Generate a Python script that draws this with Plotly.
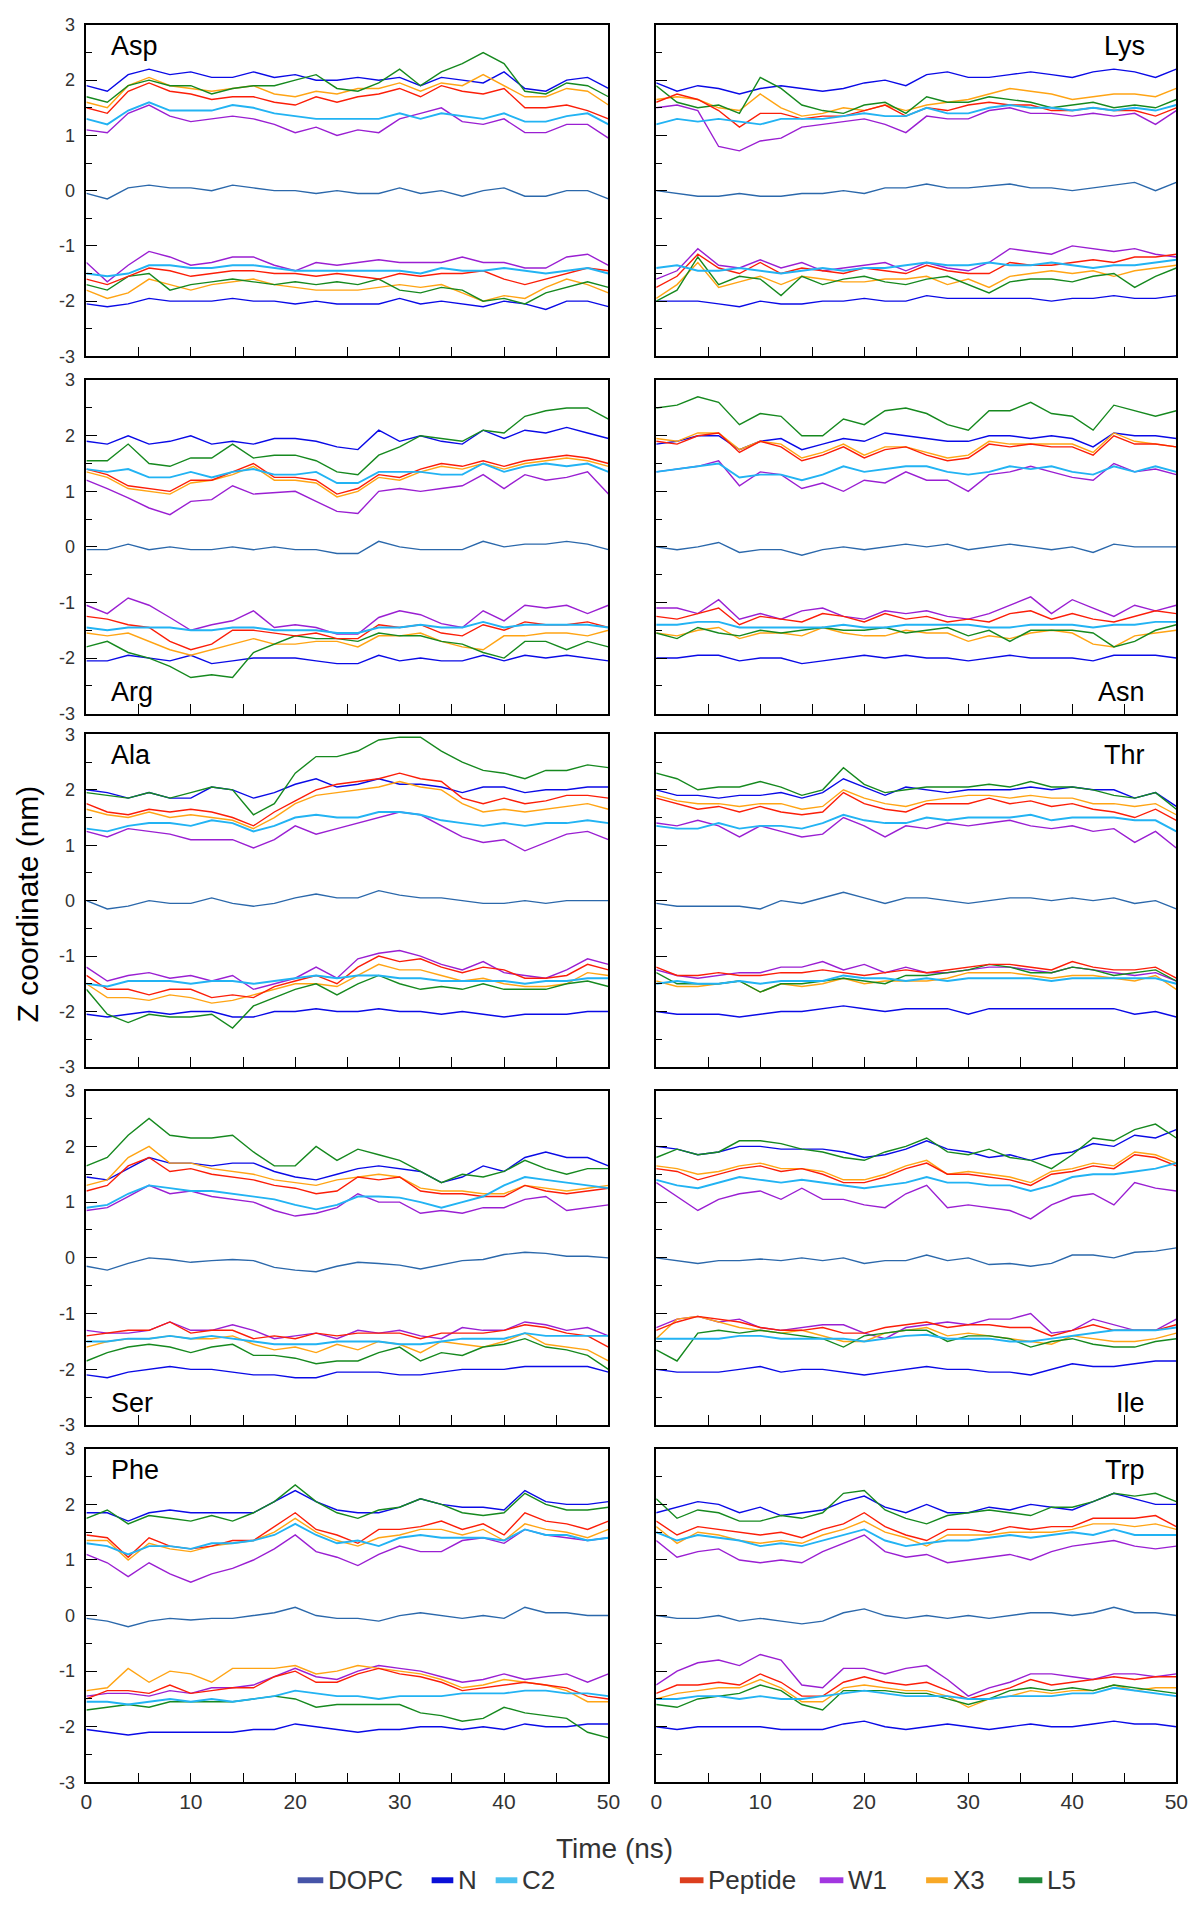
import plotly.graph_objects as go

W, H = 1200, 1907

# ---------------- data (Z coordinate in nm, sampled every 2 ns) ----------------
time_ns = [0, 2, 4, 6, 8, 10, 12, 14, 16, 18, 20, 22, 24, 26, 28, 30, 32, 34, 36, 38, 40, 42, 44, 46, 48, 50]

# Asp
asp_dopc = [-0.05, -0.15, 0.05, 0.1, 0.05, 0.05, 0.0, 0.1, 0.05, 0.0, 0.0, -0.05, 0.0, -0.05, -0.05, 0.05, -0.05, 0.0, -0.1, 0.0, 0.05, -0.1, -0.1, 0.0, 0.0, -0.15]
asp_n_up = [1.9, 1.8, 2.1, 2.2, 2.1, 2.15, 2.05, 2.05, 2.15, 2.05, 2.1, 2.0, 2.0, 2.05, 2.0, 2.05, 1.9, 2.05, 2.0, 1.95, 2.15, 1.85, 1.8, 2.0, 2.05, 1.85]
asp_c2_up = [1.3, 1.2, 1.45, 1.6, 1.45, 1.45, 1.45, 1.55, 1.5, 1.4, 1.35, 1.3, 1.3, 1.3, 1.3, 1.4, 1.3, 1.4, 1.35, 1.3, 1.4, 1.25, 1.25, 1.35, 1.4, 1.2]
asp_pep_up = [1.5, 1.4, 1.8, 1.95, 1.8, 1.75, 1.65, 1.7, 1.7, 1.6, 1.55, 1.7, 1.6, 1.7, 1.75, 1.85, 1.7, 1.9, 1.8, 1.75, 1.85, 1.5, 1.5, 1.55, 1.45, 1.3]
asp_x3_up = [1.6, 1.5, 1.9, 2.05, 1.9, 1.85, 1.8, 1.85, 1.9, 1.75, 1.7, 1.8, 1.75, 1.85, 1.85, 1.95, 1.8, 1.95, 1.9, 2.1, 1.9, 1.7, 1.7, 1.85, 1.8, 1.55]
asp_w1_up = [1.1, 1.05, 1.4, 1.55, 1.35, 1.25, 1.3, 1.35, 1.3, 1.2, 1.05, 1.15, 1.0, 1.1, 1.05, 1.3, 1.4, 1.5, 1.25, 1.2, 1.3, 1.05, 1.05, 1.2, 1.2, 0.95]
asp_l5_up = [1.7, 1.6, 1.9, 2.0, 1.9, 1.9, 1.75, 1.85, 1.9, 1.9, 2.0, 2.1, 1.85, 1.8, 1.95, 2.2, 1.9, 2.15, 2.3, 2.5, 2.3, 1.8, 1.75, 1.95, 1.9, 1.7]
asp_n_lo = [-2.05, -2.1, -2.05, -1.95, -2.0, -2.0, -2.0, -1.95, -2.0, -2.0, -2.05, -2.0, -2.05, -2.05, -2.05, -1.95, -2.05, -2.0, -2.05, -2.1, -2.0, -2.05, -2.15, -2.0, -2.0, -2.1]
asp_c2_lo = [-1.5, -1.55, -1.5, -1.35, -1.35, -1.4, -1.4, -1.35, -1.35, -1.4, -1.45, -1.45, -1.45, -1.45, -1.45, -1.45, -1.5, -1.4, -1.45, -1.45, -1.4, -1.45, -1.5, -1.45, -1.4, -1.5]
asp_w1_lo = [-1.3, -1.65, -1.35, -1.1, -1.2, -1.35, -1.3, -1.2, -1.2, -1.35, -1.45, -1.3, -1.35, -1.3, -1.25, -1.3, -1.3, -1.3, -1.2, -1.3, -1.3, -1.4, -1.4, -1.2, -1.15, -1.35]
asp_pep_lo = [-1.6, -1.7, -1.55, -1.4, -1.45, -1.55, -1.5, -1.45, -1.45, -1.5, -1.5, -1.55, -1.5, -1.55, -1.6, -1.5, -1.55, -1.5, -1.5, -1.45, -1.6, -1.7, -1.6, -1.5, -1.4, -1.45]
asp_x3_lo = [-1.8, -1.95, -1.85, -1.6, -1.7, -1.8, -1.7, -1.65, -1.6, -1.7, -1.75, -1.8, -1.8, -1.8, -1.75, -1.7, -1.75, -1.7, -1.85, -2.0, -1.9, -1.95, -1.75, -1.6, -1.7, -1.85]
asp_l5_lo = [-1.7, -1.8, -1.55, -1.5, -1.8, -1.7, -1.65, -1.6, -1.65, -1.7, -1.65, -1.7, -1.65, -1.7, -1.6, -1.8, -1.85, -1.75, -1.8, -2.0, -1.95, -2.05, -1.85, -1.75, -1.65, -1.75]

# Lys
lys_dopc = [0.0, -0.05, -0.1, -0.1, -0.05, -0.1, -0.1, -0.05, -0.05, 0.0, -0.05, 0.05, 0.05, 0.12, 0.05, 0.05, 0.08, 0.12, 0.05, 0.05, 0.0, 0.05, 0.1, 0.15, 0.0, 0.15]
lys_n_up = [1.95, 1.8, 1.9, 1.85, 1.75, 1.85, 1.9, 1.85, 1.8, 1.85, 1.95, 2.0, 1.9, 2.1, 2.15, 2.05, 2.05, 2.1, 2.15, 2.1, 2.05, 2.15, 2.2, 2.15, 2.05, 2.2]
lys_c2_up = [1.2, 1.3, 1.25, 1.3, 1.25, 1.2, 1.3, 1.3, 1.3, 1.35, 1.4, 1.35, 1.35, 1.5, 1.4, 1.4, 1.5, 1.55, 1.5, 1.5, 1.45, 1.5, 1.45, 1.5, 1.45, 1.55]
lys_pep_up = [1.6, 1.75, 1.65, 1.45, 1.15, 1.4, 1.4, 1.3, 1.35, 1.35, 1.45, 1.55, 1.35, 1.5, 1.45, 1.55, 1.6, 1.55, 1.55, 1.45, 1.45, 1.5, 1.45, 1.45, 1.35, 1.5]
lys_x3_up = [1.65, 1.7, 1.65, 1.5, 1.45, 1.75, 1.5, 1.35, 1.4, 1.5, 1.45, 1.55, 1.45, 1.55, 1.6, 1.65, 1.75, 1.85, 1.8, 1.75, 1.65, 1.7, 1.75, 1.75, 1.7, 1.85]
lys_w1_up = [1.5, 1.55, 1.45, 0.8, 0.72, 0.9, 0.95, 1.15, 1.2, 1.25, 1.3, 1.2, 1.05, 1.35, 1.3, 1.3, 1.45, 1.5, 1.4, 1.4, 1.35, 1.4, 1.35, 1.4, 1.2, 1.45]
lys_l5_up = [1.9, 1.6, 1.5, 1.55, 1.4, 2.05, 1.85, 1.55, 1.45, 1.4, 1.55, 1.6, 1.4, 1.7, 1.6, 1.6, 1.7, 1.65, 1.6, 1.5, 1.55, 1.6, 1.5, 1.55, 1.5, 1.65]
lys_n_lo = [-2.0, -2.0, -2.0, -2.05, -2.1, -2.0, -2.05, -2.05, -2.0, -2.0, -1.95, -2.0, -2.0, -1.9, -1.95, -1.95, -1.95, -1.95, -1.95, -2.0, -1.95, -1.95, -1.9, -1.95, -1.95, -1.9]
lys_c2_lo = [-1.4, -1.35, -1.45, -1.45, -1.4, -1.45, -1.5, -1.45, -1.4, -1.45, -1.4, -1.4, -1.35, -1.3, -1.35, -1.35, -1.3, -1.35, -1.35, -1.3, -1.35, -1.4, -1.35, -1.35, -1.3, -1.25]
lys_pep_lo = [-1.75, -1.55, -1.15, -1.4, -1.5, -1.3, -1.5, -1.4, -1.45, -1.5, -1.4, -1.45, -1.5, -1.35, -1.45, -1.5, -1.5, -1.3, -1.35, -1.35, -1.3, -1.25, -1.3, -1.2, -1.2, -1.15]
lys_w1_lo = [-1.6, -1.45, -1.05, -1.35, -1.4, -1.25, -1.4, -1.3, -1.45, -1.4, -1.35, -1.3, -1.45, -1.3, -1.4, -1.45, -1.3, -1.05, -1.1, -1.15, -1.0, -1.05, -1.1, -1.05, -1.15, -1.2]
lys_x3_lo = [-1.95, -1.7, -1.3, -1.75, -1.65, -1.55, -1.7, -1.55, -1.6, -1.65, -1.65, -1.6, -1.6, -1.55, -1.7, -1.6, -1.75, -1.55, -1.5, -1.45, -1.5, -1.45, -1.55, -1.45, -1.4, -1.35]
lys_l5_lo = [-2.0, -1.8, -1.2, -1.7, -1.55, -1.6, -1.9, -1.55, -1.7, -1.6, -1.55, -1.65, -1.7, -1.6, -1.55, -1.7, -1.85, -1.65, -1.6, -1.6, -1.65, -1.55, -1.5, -1.75, -1.55, -1.4]

# Arg
arg_dopc = [-0.05, -0.05, 0.05, -0.05, 0.0, -0.05, -0.05, 0.0, -0.05, 0.0, -0.05, -0.05, -0.12, -0.12, 0.1, 0.0, -0.05, -0.05, -0.05, 0.1, 0.0, 0.05, 0.05, 0.1, 0.05, -0.05]
arg_n_up = [1.9, 1.85, 2.0, 1.85, 1.9, 2.0, 1.85, 1.9, 1.85, 1.95, 1.95, 1.9, 1.8, 1.75, 2.1, 1.9, 2.0, 1.9, 1.85, 2.1, 1.95, 2.1, 2.05, 2.15, 2.05, 1.95]
arg_c2_up = [1.4, 1.35, 1.4, 1.25, 1.25, 1.35, 1.25, 1.35, 1.4, 1.3, 1.3, 1.35, 1.15, 1.15, 1.35, 1.35, 1.35, 1.3, 1.3, 1.5, 1.35, 1.45, 1.5, 1.45, 1.5, 1.35]
arg_pep_up = [1.4, 1.3, 1.1, 1.05, 1.0, 1.2, 1.2, 1.35, 1.5, 1.25, 1.25, 1.2, 0.95, 1.05, 1.3, 1.25, 1.4, 1.5, 1.45, 1.55, 1.45, 1.55, 1.6, 1.65, 1.6, 1.5]
arg_x3_up = [1.35, 1.25, 1.05, 1.0, 0.95, 1.15, 1.2, 1.3, 1.45, 1.2, 1.2, 1.15, 0.9, 1.0, 1.25, 1.2, 1.35, 1.45, 1.4, 1.5, 1.4, 1.5, 1.55, 1.6, 1.55, 1.45]
arg_w1_up = [1.2, 1.05, 0.88, 0.7, 0.58, 0.82, 0.85, 1.1, 0.95, 0.97, 1.0, 0.82, 0.64, 0.6, 1.0, 1.05, 1.0, 1.05, 1.1, 1.3, 1.05, 1.3, 1.2, 1.25, 1.35, 0.95]
arg_l5_up = [1.55, 1.55, 1.85, 1.5, 1.45, 1.6, 1.6, 1.85, 1.6, 1.65, 1.65, 1.55, 1.35, 1.3, 1.65, 1.8, 2.0, 1.95, 1.9, 2.1, 2.05, 2.35, 2.45, 2.5, 2.5, 2.3]
arg_n_lo = [-2.05, -2.05, -1.95, -2.0, -2.05, -1.95, -2.1, -2.05, -2.0, -2.0, -2.0, -2.05, -2.1, -2.1, -1.95, -2.05, -2.0, -2.05, -2.05, -1.95, -2.05, -1.95, -2.0, -1.95, -2.0, -2.05]
arg_c2_lo = [-1.45, -1.5, -1.45, -1.45, -1.45, -1.5, -1.5, -1.45, -1.45, -1.5, -1.5, -1.5, -1.55, -1.55, -1.45, -1.45, -1.4, -1.45, -1.45, -1.35, -1.45, -1.4, -1.4, -1.4, -1.4, -1.45]
arg_w1_lo = [-1.05, -1.2, -0.92, -1.05, -1.27, -1.5, -1.4, -1.33, -1.15, -1.45, -1.4, -1.45, -1.57, -1.57, -1.27, -1.15, -1.22, -1.38, -1.45, -1.15, -1.33, -1.05, -1.1, -1.05, -1.2, -1.05]
arg_pep_lo = [-1.25, -1.3, -1.4, -1.45, -1.7, -1.85, -1.75, -1.5, -1.5, -1.55, -1.6, -1.55, -1.65, -1.65, -1.4, -1.45, -1.4, -1.55, -1.6, -1.4, -1.5, -1.35, -1.4, -1.4, -1.35, -1.45]
arg_x3_lo = [-1.55, -1.6, -1.55, -1.7, -1.85, -1.95, -1.85, -1.75, -1.65, -1.75, -1.75, -1.7, -1.7, -1.8, -1.6, -1.6, -1.55, -1.7, -1.8, -1.85, -1.6, -1.6, -1.55, -1.55, -1.6, -1.5]
arg_l5_lo = [-1.8, -1.7, -1.9, -2.0, -2.15, -2.35, -2.3, -2.35, -1.9, -1.75, -1.6, -1.65, -1.65, -1.7, -1.55, -1.6, -1.6, -1.7, -1.75, -1.9, -2.0, -1.7, -1.7, -1.85, -1.7, -1.8]

# Asn
asn_dopc = [0.0, -0.05, 0.0, 0.08, -0.1, -0.05, -0.05, -0.15, -0.05, 0.0, -0.05, 0.0, 0.05, 0.0, 0.05, -0.05, 0.0, 0.05, 0.0, -0.05, 0.0, -0.1, 0.05, 0.0, 0.0, 0.0]
asn_n_up = [1.85, 1.9, 2.0, 2.0, 1.75, 1.9, 1.95, 1.75, 1.85, 1.95, 1.9, 2.05, 2.0, 1.95, 1.9, 1.9, 2.0, 2.0, 1.95, 2.0, 1.95, 1.8, 2.05, 2.0, 2.0, 1.95]
asn_c2_up = [1.35, 1.4, 1.45, 1.5, 1.25, 1.3, 1.3, 1.2, 1.3, 1.45, 1.35, 1.4, 1.45, 1.45, 1.35, 1.3, 1.35, 1.45, 1.4, 1.45, 1.35, 1.3, 1.45, 1.35, 1.45, 1.35]
asn_pep_up = [1.9, 1.85, 2.0, 2.05, 1.7, 1.9, 1.8, 1.55, 1.65, 1.8, 1.6, 1.75, 1.8, 1.65, 1.55, 1.6, 1.85, 1.8, 1.85, 1.8, 1.8, 1.65, 2.0, 1.85, 1.85, 1.8]
asn_x3_up = [1.95, 1.9, 2.05, 2.05, 1.75, 1.9, 1.85, 1.6, 1.7, 1.85, 1.65, 1.8, 1.8, 1.7, 1.6, 1.65, 1.9, 1.85, 1.85, 1.85, 1.85, 1.7, 2.05, 1.9, 1.85, 1.8]
asn_w1_up = [1.35, 1.4, 1.45, 1.55, 1.1, 1.35, 1.3, 1.05, 1.15, 1.0, 1.2, 1.15, 1.35, 1.2, 1.2, 1.0, 1.3, 1.35, 1.45, 1.35, 1.25, 1.2, 1.5, 1.35, 1.4, 1.3]
asn_l5_up = [2.5, 2.55, 2.7, 2.6, 2.2, 2.4, 2.35, 2.0, 2.0, 2.3, 2.2, 2.45, 2.5, 2.4, 2.2, 2.1, 2.45, 2.45, 2.6, 2.4, 2.35, 2.1, 2.55, 2.45, 2.35, 2.45]
asn_n_lo = [-2.0, -2.0, -1.95, -1.95, -2.05, -2.0, -2.0, -2.1, -2.05, -2.0, -1.95, -2.0, -1.95, -2.0, -2.0, -2.05, -2.0, -1.95, -2.0, -2.0, -2.0, -2.05, -1.95, -1.95, -1.95, -2.0]
asn_c2_lo = [-1.4, -1.4, -1.35, -1.35, -1.45, -1.45, -1.45, -1.45, -1.45, -1.4, -1.45, -1.45, -1.4, -1.4, -1.4, -1.4, -1.45, -1.45, -1.4, -1.4, -1.4, -1.45, -1.4, -1.4, -1.35, -1.35]
asn_w1_lo = [-1.1, -1.1, -1.2, -0.95, -1.3, -1.2, -1.3, -1.15, -1.1, -1.25, -1.3, -1.15, -1.2, -1.15, -1.25, -1.3, -1.2, -1.05, -0.9, -1.2, -0.95, -1.1, -1.25, -1.05, -1.15, -1.05]
asn_pep_lo = [-1.25, -1.3, -1.2, -1.1, -1.4, -1.25, -1.3, -1.35, -1.2, -1.25, -1.35, -1.2, -1.3, -1.25, -1.35, -1.3, -1.35, -1.2, -1.15, -1.3, -1.2, -1.3, -1.35, -1.25, -1.15, -1.2]
asn_x3_lo = [-1.55, -1.6, -1.5, -1.45, -1.65, -1.55, -1.55, -1.6, -1.45, -1.55, -1.6, -1.6, -1.5, -1.55, -1.55, -1.7, -1.6, -1.65, -1.55, -1.5, -1.55, -1.75, -1.8, -1.6, -1.55, -1.5]
asn_l5_lo = [-1.55, -1.65, -1.45, -1.55, -1.6, -1.5, -1.55, -1.5, -1.45, -1.5, -1.5, -1.45, -1.55, -1.5, -1.45, -1.6, -1.5, -1.7, -1.5, -1.5, -1.5, -1.55, -1.8, -1.7, -1.5, -1.4]

# Ala
ala_dopc = [0.0, -0.15, -0.1, 0.0, -0.05, -0.05, 0.05, -0.05, -0.1, -0.05, 0.05, 0.12, 0.05, 0.05, 0.18, 0.1, 0.05, 0.05, 0.0, -0.05, -0.05, 0.0, -0.05, 0.0, 0.0, 0.0]
ala_n_up = [2.0, 1.95, 1.85, 1.95, 1.85, 1.85, 2.05, 2.0, 1.85, 1.95, 2.1, 2.2, 2.05, 2.1, 2.2, 2.1, 2.1, 2.05, 1.95, 2.05, 2.05, 1.95, 2.0, 2.0, 2.05, 2.05]
ala_c2_up = [1.3, 1.25, 1.35, 1.4, 1.4, 1.35, 1.45, 1.4, 1.25, 1.35, 1.5, 1.55, 1.5, 1.5, 1.6, 1.6, 1.55, 1.45, 1.4, 1.35, 1.4, 1.35, 1.4, 1.4, 1.45, 1.4]
ala_pep_up = [1.75, 1.6, 1.55, 1.65, 1.6, 1.65, 1.6, 1.5, 1.35, 1.6, 1.8, 2.0, 2.1, 2.15, 2.2, 2.3, 2.2, 2.15, 1.85, 1.75, 1.85, 1.75, 1.8, 1.9, 1.9, 1.85]
ala_x3_up = [1.65, 1.55, 1.5, 1.6, 1.5, 1.55, 1.5, 1.45, 1.3, 1.5, 1.75, 1.9, 1.95, 2.0, 2.05, 2.15, 2.05, 2.0, 1.75, 1.6, 1.65, 1.6, 1.65, 1.7, 1.75, 1.65]
ala_w1_up = [1.25, 1.15, 1.3, 1.25, 1.2, 1.1, 1.1, 1.1, 0.95, 1.1, 1.35, 1.2, 1.3, 1.4, 1.5, 1.6, 1.55, 1.35, 1.15, 1.05, 1.1, 0.9, 1.05, 1.2, 1.25, 1.1]
ala_l5_up = [1.95, 1.9, 1.85, 1.95, 1.85, 1.95, 2.05, 2.0, 1.55, 1.75, 2.3, 2.6, 2.6, 2.7, 2.9, 2.95, 2.95, 2.7, 2.5, 2.35, 2.3, 2.2, 2.35, 2.35, 2.45, 2.4]
ala_n_lo = [-2.05, -2.1, -2.05, -2.0, -2.05, -2.0, -2.0, -2.1, -2.1, -2.0, -2.0, -1.95, -2.0, -2.0, -1.95, -2.0, -2.0, -2.05, -2.0, -2.05, -2.1, -2.05, -2.05, -2.05, -2.0, -2.0]
ala_c2_lo = [-1.5, -1.55, -1.45, -1.45, -1.45, -1.5, -1.45, -1.45, -1.5, -1.45, -1.4, -1.35, -1.4, -1.35, -1.35, -1.4, -1.4, -1.45, -1.45, -1.45, -1.45, -1.5, -1.45, -1.45, -1.4, -1.4]
ala_w1_lo = [-1.2, -1.45, -1.35, -1.3, -1.4, -1.35, -1.45, -1.35, -1.6, -1.5, -1.4, -1.2, -1.4, -1.05, -0.95, -0.9, -1.0, -1.15, -1.25, -1.1, -1.3, -1.35, -1.4, -1.25, -1.05, -1.15]
ala_pep_lo = [-1.35, -1.6, -1.6, -1.7, -1.6, -1.6, -1.75, -1.7, -1.75, -1.55, -1.45, -1.35, -1.5, -1.2, -1.0, -1.1, -1.05, -1.2, -1.3, -1.2, -1.25, -1.4, -1.4, -1.35, -1.15, -1.25]
ala_x3_lo = [-1.5, -1.75, -1.75, -1.8, -1.7, -1.75, -1.85, -1.8, -1.7, -1.6, -1.5, -1.5, -1.55, -1.35, -1.15, -1.25, -1.25, -1.35, -1.45, -1.4, -1.5, -1.55, -1.55, -1.5, -1.3, -1.35]
ala_l5_lo = [-1.6, -2.05, -2.2, -2.05, -2.1, -2.1, -2.05, -2.3, -1.9, -1.75, -1.6, -1.5, -1.7, -1.5, -1.35, -1.5, -1.6, -1.55, -1.6, -1.5, -1.6, -1.6, -1.6, -1.5, -1.45, -1.55]

# Thr
thr_dopc = [-0.05, -0.1, -0.1, -0.1, -0.1, -0.15, 0.0, -0.05, 0.05, 0.15, 0.05, -0.05, 0.05, 0.05, 0.0, -0.05, 0.0, 0.05, 0.05, 0.0, 0.05, 0.0, 0.05, -0.05, 0.0, -0.15]
thr_n_up = [2.0, 1.9, 1.9, 1.85, 1.9, 1.9, 1.95, 1.85, 1.95, 2.2, 2.05, 1.9, 2.05, 2.0, 1.95, 2.0, 2.0, 2.0, 2.05, 2.0, 2.05, 2.0, 2.0, 1.85, 1.95, 1.7]
thr_c2_up = [1.35, 1.3, 1.3, 1.4, 1.3, 1.35, 1.35, 1.3, 1.4, 1.55, 1.45, 1.4, 1.4, 1.5, 1.45, 1.5, 1.5, 1.5, 1.55, 1.45, 1.5, 1.5, 1.5, 1.45, 1.45, 1.25]
thr_pep_up = [1.85, 1.75, 1.65, 1.7, 1.6, 1.7, 1.6, 1.55, 1.6, 1.95, 1.75, 1.65, 1.6, 1.75, 1.75, 1.75, 1.85, 1.75, 1.8, 1.7, 1.75, 1.65, 1.6, 1.5, 1.65, 1.45]
thr_x3_up = [1.9, 1.8, 1.75, 1.75, 1.7, 1.75, 1.75, 1.65, 1.7, 2.0, 1.85, 1.75, 1.7, 1.8, 1.85, 1.9, 1.9, 1.85, 1.9, 1.85, 1.85, 1.75, 1.75, 1.7, 1.75, 1.55]
thr_w1_up = [1.4, 1.35, 1.45, 1.35, 1.15, 1.35, 1.25, 1.15, 1.2, 1.5, 1.35, 1.15, 1.35, 1.3, 1.4, 1.35, 1.4, 1.45, 1.35, 1.3, 1.35, 1.25, 1.3, 1.05, 1.25, 0.95]
thr_l5_up = [2.3, 2.2, 2.0, 2.05, 2.05, 2.15, 2.05, 1.9, 2.0, 2.4, 2.1, 1.95, 2.0, 2.05, 2.05, 2.05, 2.1, 2.05, 2.15, 2.05, 2.05, 2.0, 1.9, 1.85, 1.95, 1.65]
thr_n_lo = [-2.0, -2.05, -2.05, -2.05, -2.1, -2.05, -2.0, -2.0, -1.95, -1.9, -1.95, -2.0, -1.95, -1.95, -1.95, -2.05, -1.95, -1.95, -1.95, -1.95, -1.95, -1.95, -1.95, -2.05, -2.0, -2.1]
thr_c2_lo = [-1.5, -1.45, -1.5, -1.5, -1.45, -1.5, -1.45, -1.45, -1.45, -1.35, -1.4, -1.4, -1.45, -1.4, -1.45, -1.4, -1.4, -1.4, -1.4, -1.45, -1.4, -1.4, -1.4, -1.4, -1.4, -1.5]
thr_pep_lo = [-1.2, -1.35, -1.35, -1.3, -1.35, -1.35, -1.3, -1.3, -1.25, -1.3, -1.35, -1.3, -1.25, -1.3, -1.25, -1.2, -1.15, -1.15, -1.2, -1.25, -1.1, -1.2, -1.25, -1.25, -1.2, -1.4]
thr_w1_lo = [-1.25, -1.35, -1.4, -1.35, -1.3, -1.3, -1.2, -1.2, -1.1, -1.25, -1.15, -1.3, -1.2, -1.3, -1.3, -1.25, -1.2, -1.2, -1.25, -1.3, -1.2, -1.25, -1.3, -1.35, -1.3, -1.45]
thr_x3_lo = [-1.45, -1.55, -1.55, -1.5, -1.45, -1.65, -1.5, -1.55, -1.5, -1.4, -1.5, -1.45, -1.45, -1.45, -1.4, -1.3, -1.3, -1.3, -1.35, -1.4, -1.35, -1.35, -1.4, -1.45, -1.35, -1.6]
thr_l5_lo = [-1.3, -1.5, -1.5, -1.5, -1.45, -1.65, -1.5, -1.5, -1.45, -1.4, -1.45, -1.5, -1.35, -1.35, -1.3, -1.25, -1.15, -1.2, -1.3, -1.3, -1.2, -1.25, -1.35, -1.3, -1.25, -1.45]

# Ser
ser_dopc = [-0.15, -0.22, -0.1, 0.0, -0.03, -0.08, -0.05, -0.03, -0.05, -0.17, -0.22, -0.25, -0.15, -0.08, -0.1, -0.13, -0.2, -0.12, -0.05, -0.03, 0.06, 0.1, 0.08, 0.03, 0.03, 0.0]
ser_n_up = [1.45, 1.4, 1.6, 1.8, 1.7, 1.7, 1.65, 1.7, 1.7, 1.55, 1.45, 1.4, 1.5, 1.6, 1.65, 1.6, 1.55, 1.35, 1.45, 1.65, 1.55, 1.8, 1.9, 1.8, 1.8, 1.65]
ser_c2_up = [0.9, 0.95, 1.15, 1.3, 1.25, 1.2, 1.2, 1.15, 1.1, 1.05, 0.95, 0.87, 0.95, 1.1, 1.1, 1.08, 1.0, 0.9, 1.0, 1.1, 1.3, 1.45, 1.4, 1.35, 1.3, 1.25]
ser_pep_up = [1.2, 1.3, 1.65, 1.8, 1.55, 1.6, 1.5, 1.45, 1.4, 1.3, 1.25, 1.15, 1.2, 1.45, 1.4, 1.45, 1.2, 1.15, 1.15, 1.1, 1.1, 1.3, 1.2, 1.15, 1.2, 1.25]
ser_x3_up = [1.3, 1.4, 1.8, 2.0, 1.7, 1.7, 1.6, 1.55, 1.5, 1.4, 1.35, 1.3, 1.4, 1.45, 1.5, 1.45, 1.25, 1.2, 1.2, 1.15, 1.15, 1.3, 1.25, 1.2, 1.25, 1.3]
ser_w1_up = [0.85, 0.9, 1.1, 1.3, 1.15, 1.2, 1.1, 1.05, 1.0, 0.85, 0.75, 0.8, 0.9, 1.15, 1.0, 1.0, 0.8, 0.85, 0.8, 0.9, 0.9, 1.05, 1.1, 0.85, 0.9, 0.95]
ser_l5_up = [1.65, 1.8, 2.2, 2.5, 2.2, 2.15, 2.15, 2.2, 1.9, 1.65, 1.65, 2.0, 1.75, 1.95, 1.85, 1.75, 1.55, 1.35, 1.5, 1.45, 1.55, 1.75, 1.6, 1.5, 1.6, 1.6]
ser_n_lo = [-2.1, -2.15, -2.05, -2.0, -1.95, -2.0, -2.0, -2.05, -2.1, -2.1, -2.15, -2.15, -2.05, -2.05, -2.05, -2.1, -2.1, -2.05, -2.0, -2.0, -2.0, -1.95, -1.95, -1.95, -1.95, -2.05]
ser_c2_lo = [-1.5, -1.5, -1.45, -1.45, -1.4, -1.45, -1.4, -1.45, -1.5, -1.55, -1.55, -1.55, -1.5, -1.5, -1.5, -1.55, -1.55, -1.5, -1.45, -1.45, -1.45, -1.35, -1.4, -1.4, -1.4, -1.4]
ser_pep_lo = [-1.4, -1.35, -1.3, -1.3, -1.15, -1.35, -1.3, -1.3, -1.45, -1.4, -1.45, -1.35, -1.4, -1.35, -1.35, -1.35, -1.45, -1.35, -1.35, -1.35, -1.3, -1.2, -1.25, -1.35, -1.4, -1.6]
ser_w1_lo = [-1.3, -1.35, -1.35, -1.3, -1.15, -1.3, -1.3, -1.2, -1.3, -1.45, -1.4, -1.35, -1.45, -1.3, -1.35, -1.3, -1.4, -1.45, -1.25, -1.3, -1.3, -1.15, -1.2, -1.3, -1.25, -1.4]
ser_x3_lo = [-1.6, -1.5, -1.45, -1.45, -1.4, -1.45, -1.45, -1.4, -1.55, -1.65, -1.6, -1.7, -1.55, -1.65, -1.5, -1.55, -1.7, -1.5, -1.55, -1.6, -1.5, -1.35, -1.55, -1.6, -1.65, -1.85]
ser_l5_lo = [-1.85, -1.7, -1.6, -1.55, -1.6, -1.7, -1.6, -1.55, -1.75, -1.75, -1.8, -1.9, -1.85, -1.85, -1.7, -1.6, -1.85, -1.7, -1.75, -1.6, -1.55, -1.45, -1.6, -1.65, -1.75, -2.0]

# Ile
ile_dopc = [0.0, -0.05, -0.1, -0.05, -0.05, -0.02, -0.05, 0.0, -0.05, 0.0, -0.1, -0.05, -0.05, 0.05, -0.05, 0.0, -0.12, -0.1, -0.15, -0.1, 0.05, 0.05, 0.0, 0.1, 0.12, 0.18]
ile_n_up = [2.0, 1.95, 1.85, 1.9, 2.0, 2.0, 1.95, 1.95, 1.95, 1.9, 1.8, 1.85, 1.95, 2.1, 1.95, 1.9, 1.8, 1.85, 1.75, 1.85, 1.9, 2.05, 2.0, 2.2, 2.15, 2.3]
ile_c2_up = [1.4, 1.3, 1.25, 1.35, 1.45, 1.4, 1.35, 1.4, 1.35, 1.3, 1.25, 1.3, 1.35, 1.45, 1.35, 1.35, 1.3, 1.3, 1.2, 1.3, 1.45, 1.5, 1.5, 1.55, 1.6, 1.7]
ile_pep_up = [1.6, 1.55, 1.4, 1.5, 1.6, 1.65, 1.55, 1.6, 1.5, 1.35, 1.35, 1.45, 1.6, 1.7, 1.5, 1.5, 1.45, 1.4, 1.3, 1.5, 1.55, 1.65, 1.6, 1.85, 1.8, 1.65]
ile_x3_up = [1.65, 1.6, 1.5, 1.55, 1.65, 1.7, 1.6, 1.6, 1.55, 1.4, 1.4, 1.5, 1.65, 1.75, 1.5, 1.55, 1.5, 1.45, 1.35, 1.55, 1.6, 1.7, 1.65, 1.9, 1.85, 1.7]
ile_w1_up = [1.35, 1.1, 0.85, 1.05, 1.15, 1.2, 1.05, 1.25, 1.05, 1.05, 0.95, 0.9, 1.15, 1.3, 0.9, 0.95, 0.9, 0.85, 0.7, 0.95, 1.1, 1.15, 0.95, 1.35, 1.25, 1.2]
ile_l5_up = [1.8, 1.95, 1.85, 1.9, 2.1, 2.1, 2.05, 1.95, 1.9, 1.8, 1.75, 1.9, 2.0, 2.15, 1.9, 1.85, 1.95, 1.8, 1.75, 1.6, 1.85, 2.15, 2.1, 2.3, 2.4, 2.15]
ile_n_lo = [-2.0, -2.05, -2.05, -2.05, -2.0, -1.95, -2.05, -2.0, -2.0, -2.05, -2.1, -2.05, -2.0, -1.95, -2.0, -2.0, -2.05, -2.05, -2.1, -2.0, -1.9, -1.95, -1.95, -1.9, -1.85, -1.85]
ile_c2_lo = [-1.45, -1.45, -1.45, -1.45, -1.4, -1.4, -1.45, -1.45, -1.45, -1.45, -1.5, -1.45, -1.4, -1.38, -1.45, -1.45, -1.45, -1.5, -1.5, -1.45, -1.4, -1.35, -1.3, -1.3, -1.3, -1.25]
ile_pep_lo = [-1.3, -1.15, -1.05, -1.1, -1.15, -1.25, -1.3, -1.3, -1.25, -1.35, -1.35, -1.25, -1.2, -1.15, -1.25, -1.2, -1.2, -1.25, -1.25, -1.4, -1.3, -1.2, -1.3, -1.3, -1.3, -1.2]
ile_w1_lo = [-1.25, -1.1, -1.05, -1.15, -1.1, -1.25, -1.3, -1.25, -1.2, -1.2, -1.35, -1.45, -1.25, -1.2, -1.15, -1.2, -1.1, -1.1, -1.0, -1.35, -1.3, -1.1, -1.2, -1.3, -1.3, -1.1]
ile_x3_lo = [-1.45, -1.1, -1.05, -1.15, -1.25, -1.3, -1.35, -1.3, -1.4, -1.5, -1.5, -1.35, -1.3, -1.25, -1.4, -1.35, -1.4, -1.45, -1.5, -1.55, -1.4, -1.45, -1.5, -1.5, -1.45, -1.35]
ile_l5_lo = [-1.65, -1.85, -1.35, -1.3, -1.35, -1.3, -1.35, -1.4, -1.45, -1.6, -1.4, -1.35, -1.3, -1.3, -1.5, -1.4, -1.4, -1.45, -1.6, -1.5, -1.45, -1.55, -1.6, -1.6, -1.5, -1.45]

# Phe
phe_dopc = [-0.05, -0.1, -0.2, -0.1, -0.05, -0.08, -0.05, -0.05, 0.0, 0.05, 0.15, 0.0, -0.05, -0.05, -0.1, 0.0, 0.05, 0.0, -0.05, 0.0, -0.05, 0.15, 0.05, 0.05, 0.0, 0.0]
phe_n_up = [1.85, 1.85, 1.7, 1.85, 1.9, 1.85, 1.85, 1.85, 1.85, 2.05, 2.25, 2.05, 1.9, 1.85, 1.85, 1.95, 2.1, 2.0, 1.95, 1.95, 1.9, 2.25, 2.05, 2.0, 2.0, 2.05]
phe_c2_up = [1.3, 1.25, 1.1, 1.25, 1.25, 1.2, 1.3, 1.3, 1.35, 1.45, 1.65, 1.45, 1.3, 1.35, 1.25, 1.4, 1.45, 1.4, 1.4, 1.4, 1.35, 1.55, 1.45, 1.45, 1.35, 1.4]
phe_pep_up = [1.45, 1.4, 1.05, 1.4, 1.25, 1.2, 1.25, 1.35, 1.35, 1.6, 1.85, 1.55, 1.45, 1.3, 1.55, 1.55, 1.6, 1.7, 1.55, 1.65, 1.45, 1.85, 1.7, 1.65, 1.55, 1.7]
phe_x3_up = [1.35, 1.35, 1.0, 1.3, 1.2, 1.15, 1.25, 1.3, 1.35, 1.5, 1.75, 1.5, 1.35, 1.25, 1.4, 1.45, 1.55, 1.55, 1.45, 1.55, 1.35, 1.65, 1.55, 1.5, 1.4, 1.55]
phe_w1_up = [1.1, 0.95, 0.7, 0.95, 0.75, 0.6, 0.75, 0.85, 1.0, 1.2, 1.45, 1.15, 1.05, 0.9, 1.1, 1.25, 1.15, 1.15, 1.35, 1.4, 1.3, 1.55, 1.45, 1.4, 1.35, 1.4]
phe_l5_up = [1.75, 1.9, 1.65, 1.8, 1.75, 1.7, 1.8, 1.7, 1.85, 2.05, 2.35, 2.05, 1.85, 1.75, 1.9, 1.95, 2.1, 2.0, 1.85, 1.8, 1.85, 2.2, 2.0, 1.9, 1.9, 1.95]
phe_n_lo = [-2.05, -2.1, -2.15, -2.1, -2.1, -2.1, -2.1, -2.1, -2.05, -2.05, -1.95, -2.0, -2.05, -2.1, -2.05, -2.05, -2.0, -2.0, -2.05, -2.0, -2.05, -1.95, -2.0, -2.0, -1.95, -1.95]
phe_c2_lo = [-1.55, -1.55, -1.6, -1.55, -1.5, -1.55, -1.5, -1.55, -1.5, -1.45, -1.35, -1.4, -1.45, -1.45, -1.5, -1.45, -1.45, -1.45, -1.4, -1.4, -1.4, -1.35, -1.35, -1.4, -1.4, -1.45]
phe_pep_lo = [-1.5, -1.35, -1.35, -1.4, -1.25, -1.4, -1.35, -1.3, -1.3, -1.1, -1.0, -1.2, -1.2, -1.05, -0.95, -1.05, -1.1, -1.2, -1.35, -1.3, -1.25, -1.2, -1.25, -1.3, -1.45, -1.5]
phe_x3_lo = [-1.35, -1.3, -0.95, -1.2, -1.0, -1.05, -1.2, -0.95, -0.95, -0.95, -0.9, -1.05, -1.0, -0.9, -0.95, -1.0, -1.05, -1.15, -1.3, -1.25, -1.15, -1.2, -1.25, -1.35, -1.55, -1.55]
phe_w1_lo = [-1.45, -1.4, -1.4, -1.45, -1.35, -1.4, -1.3, -1.3, -1.25, -1.1, -0.95, -1.1, -1.15, -1.0, -0.9, -0.95, -1.0, -1.1, -1.2, -1.15, -1.05, -1.15, -1.1, -1.05, -1.2, -1.05]
phe_l5_lo = [-1.7, -1.65, -1.6, -1.65, -1.55, -1.55, -1.55, -1.55, -1.5, -1.45, -1.5, -1.65, -1.6, -1.6, -1.6, -1.6, -1.75, -1.8, -1.9, -1.85, -1.65, -1.75, -1.8, -1.85, -2.1, -2.2]

# Trp
trp_dopc = [0.0, -0.05, -0.05, 0.0, -0.1, -0.05, -0.1, -0.15, -0.1, 0.05, 0.12, 0.0, -0.05, 0.0, -0.05, 0.0, -0.05, 0.0, 0.05, 0.05, 0.0, 0.05, 0.15, 0.05, 0.05, 0.0]
trp_n_up = [1.85, 1.95, 2.05, 2.0, 1.85, 1.95, 1.8, 1.85, 1.9, 2.05, 2.15, 1.95, 1.85, 2.0, 1.85, 1.85, 1.95, 1.9, 2.0, 1.95, 1.9, 2.05, 2.2, 2.1, 2.0, 2.0]
trp_c2_up = [1.5, 1.35, 1.45, 1.4, 1.35, 1.25, 1.3, 1.25, 1.35, 1.45, 1.55, 1.35, 1.25, 1.3, 1.35, 1.35, 1.4, 1.45, 1.4, 1.45, 1.5, 1.45, 1.55, 1.45, 1.45, 1.45]
trp_pep_up = [1.7, 1.45, 1.6, 1.55, 1.5, 1.45, 1.5, 1.4, 1.55, 1.65, 1.85, 1.6, 1.45, 1.35, 1.55, 1.55, 1.5, 1.6, 1.55, 1.6, 1.6, 1.75, 1.75, 1.75, 1.8, 1.6]
trp_x3_up = [1.6, 1.3, 1.5, 1.45, 1.35, 1.3, 1.35, 1.3, 1.45, 1.55, 1.7, 1.5, 1.4, 1.25, 1.45, 1.45, 1.45, 1.5, 1.5, 1.5, 1.55, 1.65, 1.65, 1.6, 1.65, 1.55]
trp_w1_up = [1.35, 1.05, 1.15, 1.2, 1.0, 0.95, 1.0, 0.95, 1.15, 1.3, 1.45, 1.15, 1.05, 1.1, 0.95, 1.0, 1.05, 1.1, 1.0, 1.15, 1.25, 1.3, 1.35, 1.25, 1.2, 1.25]
trp_l5_up = [2.1, 1.75, 1.9, 1.85, 1.7, 1.7, 1.8, 1.75, 1.85, 2.2, 2.25, 1.9, 1.75, 1.65, 1.8, 1.85, 1.9, 1.85, 1.8, 1.95, 1.95, 2.05, 2.2, 2.15, 2.2, 2.05]
trp_n_lo = [-2.0, -2.05, -2.0, -2.0, -2.0, -2.0, -2.05, -2.05, -2.05, -1.95, -1.9, -2.0, -2.05, -2.0, -1.95, -2.0, -2.05, -2.0, -1.95, -2.0, -2.0, -1.95, -1.9, -1.95, -1.95, -2.0]
trp_c2_lo = [-1.5, -1.5, -1.45, -1.45, -1.5, -1.45, -1.5, -1.5, -1.45, -1.4, -1.35, -1.4, -1.45, -1.45, -1.45, -1.5, -1.5, -1.45, -1.45, -1.45, -1.4, -1.4, -1.3, -1.35, -1.4, -1.45]
trp_pep_lo = [-1.4, -1.25, -1.25, -1.2, -1.25, -1.05, -1.2, -1.45, -1.45, -1.2, -1.1, -1.2, -1.25, -1.2, -1.35, -1.5, -1.4, -1.3, -1.15, -1.25, -1.2, -1.15, -1.1, -1.15, -1.1, -1.1]
trp_w1_lo = [-1.25, -1.0, -0.85, -0.8, -0.9, -0.7, -0.8, -1.25, -1.3, -0.95, -0.95, -1.05, -0.95, -0.9, -1.15, -1.45, -1.3, -1.2, -1.05, -1.05, -1.1, -1.15, -1.05, -1.05, -1.1, -1.05]
trp_x3_lo = [-1.5, -1.4, -1.35, -1.3, -1.3, -1.15, -1.3, -1.55, -1.55, -1.3, -1.25, -1.3, -1.35, -1.35, -1.45, -1.65, -1.5, -1.45, -1.35, -1.4, -1.35, -1.35, -1.25, -1.35, -1.3, -1.3]
trp_l5_lo = [-1.6, -1.65, -1.5, -1.45, -1.4, -1.25, -1.35, -1.6, -1.7, -1.35, -1.35, -1.35, -1.4, -1.4, -1.5, -1.6, -1.5, -1.35, -1.3, -1.35, -1.3, -1.35, -1.25, -1.3, -1.35, -1.4]

panel_names = ["Asp", "Lys", "Arg", "Asn", "Ala", "Thr", "Ser", "Ile", "Phe", "Trp"]
label_corner = ["top", "top", "bottom", "bottom", "top", "top", "bottom", "bottom", "top", "top"]
y_ticks = [-3, -2, -1, 0, 1, 2, 3]
y_tick_text = ["-3", "-2", "-1", "0", "1", "2", "3"]
x_ticks = [0, 10, 20, 30, 40, 50]
legend_names = ["DOPC", "N", "C2", "Peptide", "W1", "X3", "L5"]

# ---------------- styling ----------------
line_color = {"dopc": "#2b68ab", "n": "#0a0ae6", "c2": "#22b3f3", "pep": "#fb1e08",
              "w1": "#9a1fd2", "x3": "#ffa414", "l5": "#16891f"}
line_width = {"dopc": 1.4, "n": 1.4, "c2": 1.9, "pep": 1.4, "w1": 1.4, "x3": 1.4, "l5": 1.4}
draw_order = ["dopc", "n_up", "n_lo", "w1_up", "w1_lo", "x3_up", "x3_lo",
              "l5_up", "l5_lo", "pep_up", "pep_lo", "c2_up", "c2_lo"]
legend_color = {"DOPC": "#4654a8", "N": "#0a10d8", "C2": "#4cc2f0", "Peptide": "#dc3e1e",
                "W1": "#a236e0", "X3": "#f8a826", "L5": "#1f8a3a"}

NARROW = "Liberation Sans Narrow, Arial Narrow, Liberation Sans, Arial, sans-serif"
REG = "Liberation Sans, Arial, sans-serif"

# page offset (default body margin of the html page)
OFF = 8


def px_x(p):
    return (p - OFF) / W


def px_y(p):
    return 1 - (p - OFF) / H


col_px = [(81.5, 611.5), (660.0, 1188.0)]
row_px = [(15, 350), (374, 711), (732, 1068), (1092, 1430), (1454, 1791)]

fig = go.Figure()
g = globals()
layout = {}
annotations = []
shapes = []

for i, name in enumerate(panel_names):
    key = name.lower()
    r, c = divmod(i, 2)
    ax = "" if i == 0 else str(i + 1)
    for s in draw_order:
        vals = g[f"{key}_{s}"]
        assert len(vals) == len(time_ns), (key, s, len(vals))
        base = s.split("_")[0]
        fig.add_trace(go.Scatter(
            x=time_ns, y=vals, mode="lines", showlegend=False,
            line=dict(color=line_color[base], width=line_width[base]),
            xaxis="x" + ax, yaxis="y" + ax, hoverinfo="skip"))
    x0, x1 = col_px[c]
    t0, t1 = row_px[r]
    layout["xaxis" + ax] = dict(
        domain=[px_x(x0), px_x(x1)], anchor="y" + ax, range=[0, 50],
        showgrid=False, zeroline=False, showline=True, linecolor="black", linewidth=1.5,
        mirror=True, ticks="inside", ticklen=10, tickwidth=1.3, tickcolor="black",
        tickvals=x_ticks, ticktext=[str(v) for v in x_ticks],
        showticklabels=(r == 4),
        tickfont=dict(family=NARROW, size=21, color="#333333"),
        minor=dict(tickvals=[5, 15, 25, 35, 45], ticks="inside", ticklen=10,
                   tickwidth=1.3, tickcolor="black"))
    layout["yaxis" + ax] = dict(
        domain=[px_y(t1), px_y(t0)], anchor="x" + ax, range=[-3, 3],
        showgrid=False, zeroline=False, showline=True, linecolor="black", linewidth=1.5,
        mirror=True, ticks="inside", ticklen=11, tickwidth=1.3, tickcolor="black",
        tickvals=y_ticks, ticktext=y_tick_text, showticklabels=(c == 0),
        ticklabelstandoff=6,
        tickfont=dict(family=NARROW, size=18, color="#333333"),
        minor=dict(tickvals=[-2.5, -1.5, -0.5, 0.5, 1.5, 2.5], ticks="inside",
                   ticklen=6, tickwidth=1.3, tickcolor="black"))
    # panel label
    ly = (t0 + 21) if label_corner[i] == "top" else (t1 - 22)
    if c == 0:
        annotations.append(dict(text=name, xref="paper", yref="paper", x=px_x(x0 + 23),
                                y=px_y(ly), xanchor="left", yanchor="middle", showarrow=False,
                                font=dict(family=REG, size=27, color="black")))
    else:
        annotations.append(dict(text=name, xref="paper", yref="paper", x=px_x(x1 - 30),
                                y=px_y(ly), xanchor="right", yanchor="middle", showarrow=False,
                                font=dict(family=REG, size=27, color="black")))

# axis titles
annotations.append(dict(text="Z coordinate (nm)", xref="paper", yref="paper", x=px_x(22),
                        y=px_y(903), textangle=-90, xanchor="center", yanchor="middle",
                        showarrow=False, font=dict(family=REG, size=30, color="black")))
annotations.append(dict(text="Time (ns)", xref="paper", yref="paper", x=px_x(618),
                        y=px_y(1858), xanchor="center", yanchor="middle",
                        showarrow=False, font=dict(family=NARROW, size=28, color="#333333")))

# legend (drawn manually to match the reference spacing)
legend_bar = {"DOPC": (296, 322), "N": (432, 454), "C2": (497, 519), "Peptide": (684, 708),
              "W1": (826, 850), "X3": (934, 956), "L5": (1028, 1052)}
ly = 1890
for nm in legend_names:
    bx0, bx1 = legend_bar[nm]
    shapes.append(dict(type="rect", xref="paper", yref="paper", x0=px_x(bx0), x1=px_x(bx1),
                       y0=px_y(ly + 3), y1=px_y(ly - 3),
                       fillcolor=legend_color[nm], line=dict(width=0)))
    annotations.append(dict(text=nm, xref="paper", yref="paper", x=px_x(bx1 + 3),
                            y=px_y(ly), xanchor="left", yanchor="middle", showarrow=False,
                            font=dict(family=NARROW, size=26, color="#333333")))

fig.update_layout(
    width=W, height=H, margin=dict(l=0, r=0, t=0, b=0),
    paper_bgcolor="white", plot_bgcolor="white", showlegend=False,
    annotations=annotations, shapes=shapes, **layout)

fig.write_html("out.html")
